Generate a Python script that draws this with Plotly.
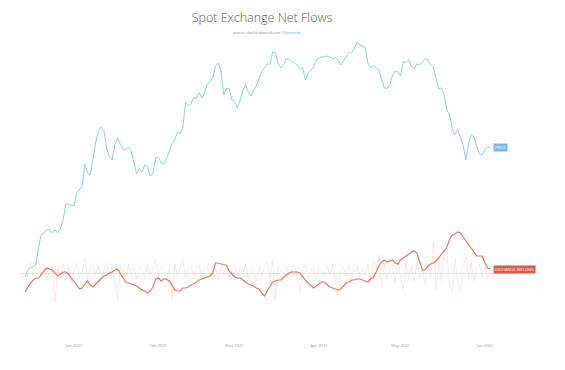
import math
import pandas as pd
import plotly.graph_objects as go

# ---------------- data (daily, from 2020-12-14) ----------------
start_date = "2020-12-14"

price = [
    19200, 19800, 20100, 20200, 20500, 22400, 23840, 24020, 24390, 24400,
    24020, 24390, 24020, 24520, 25670, 27850, 27850, 27640, 27570, 29450,
    29910, 30520, 34140, 32610, 32280, 35380, 38190, 40390, 41220, 40390,
    37040, 35380, 34850, 37610, 38980, 37800, 36850, 36670, 37140, 36480,
    34320, 32450, 33280, 32780, 33970, 33620, 32120, 32450, 35200, 35380,
    34320, 34140, 35030, 36480, 37800, 38580, 40190, 39780, 41220, 46590,
    45880, 46350, 47790, 47700, 49020, 47790, 49020, 51320, 51840, 52910,
    56250, 57110, 54830, 48520, 50290, 50030, 47300, 47100, 45410, 47060,
    49520, 51060, 49270, 48280, 49520, 50800, 52640, 54560, 55670, 56820,
    56700, 60410, 60100, 56820, 55670, 56530, 58290, 58200, 57400, 57110,
    56530, 55400, 55670, 52370, 54000, 55120, 55960, 57700, 58590, 58890,
    58800, 59190, 58890, 58290, 58590, 57990, 56530, 57700, 58890, 60100,
    60200, 61330, 63560, 62600, 62280, 61650, 57110, 55670, 56250, 55670,
    55120, 52640, 50290, 50100, 51060, 53450, 54830, 54560, 53450, 57400,
    57300, 57990, 55960, 55400, 56820, 56530, 57400, 58290, 57990, 56530,
    55960, 52640, 50030, 50290, 48520, 44950, 43820, 40810, 39580, 40600,
    39180, 37420, 34850, 38000, 39580, 39180, 37230, 35930, 35750, 36670,
    37230, 37040,
]

inflows_smooth = [
    -4750, -3500, -2500, -1750, -1250, -1250, -250, 500, 1250, 1000,
    750, 0, -750, -250, 250, 250, -250, -1250, -2000, -3000,
    -4000, -3750, -2750, -2000, -3000, -3500, -2750, -2000, -1250, -750,
    -500, 0, 250, 750, 1000, 0, -1250, -2250, -2500, -2750,
    -3000, -3250, -3750, -4250, -4500, -5000, -4500, -3500, -1500, -1250,
    -2000, -1500, -1500, -2000, -3000, -4250, -4500, -4500, -3750, -3750,
    -3500, -3000, -2750, -2250, -1750, -1500, -1250, -1000, -750, 0,
    2500, 2500, 2250, 2000, 2000, 500, -250, -1000, -1250, -1250,
    -1750, -2250, -2750, -3000, -3250, -3750, -4000, -5000, -5750, -4500,
    -3250, -2250, -2000, -1750, -1750, -1000, -500, 0, 250, 250,
    250, 0, -1000, -1750, -2500, -3250, -3750, -3250, -2750, -2250,
    -2250, -3000, -3500, -3750, -4000, -4250, -4000, -3250, -2500, -2250,
    -1750, -1750, -1500, -1500, -1750, -2000, -2250, -1500, -1000, 250,
    1750, 2750, 3250, 2750, 3000, 3250, 2500, 2250, 3250, 3750,
    4250, 4750, 5250, 5500, 5000, 2750, 750, 750, 1750, 2250,
    2500, 3000, 3750, 4500, 5500, 6500, 8500, 9500, 9750, 10250,
    10000, 9000, 8000, 7000, 6250, 5000, 4250, 4250, 4250, 2500,
    1250, 1000,
]

net_flows_daily = [
    1500, -1000, 2500, -500, 1750, 3000, -750, 1250, -1500, 500,
    2000, -7250, 1000, -1250, 2250, -500, 1500, -2000, 750, 2750,
    -1000, 500, 3750, -1750, 1250, 2000, -500, 1750, -1250, 1000,
    2500, -750, 1500, -2250, -6750, 2000, 750, -1000, 2250, -500,
    1250, -1500, 1750, 500, -1250, 2000, -750, 1000, 3500, -1000,
    1500, 750, -2000, 1000, -6750, 2250, -500, 1250, 3250, -1250,
    750, 1750, -1000, 500, 2000, -1500, 1000, 1500, -750, 2500,
    1250, -1750, 1500, -500, 2000, -1250, 750, 1750, -1000, 1250,
    -500, 2250, -1500, 1000, 500, -2000, 1500, -750, 1750, 2750,
    -1250, 3250, -6750, 1500, 500, -1000, 1750, -500, 1250, 2000,
    -750, -5000, 1000, 2000, -1250, 750, 1500, -1750, 1250, 500,
    -1000, 1750, -500, 2250, -1500, -5500, 1000, 1500, -750, 2000,
    -1250, 750, 1750, -1000, 1250, -500, 2250, -1750, 3000, 1000,
    4500, -3500, 2500, -1500, 1000, 2000, -2500, 3500, -1000, -4250,
    2750, -1500, 1750, -2250, 3000, -1000, 1500, -2750, 2000, -1250,
    7750, -4250, 2500, -2000, 5750, 6250, -3000, -5000, 3500, -2500,
    -4250, 2000, 4000, -1500, 2500, -2000, 1250, 2250, -1000, 1500,
    -1250, 500,
]

title_text = "Spot Exchange Net Flows"
source_text = "source: charlie.edwood.com / <span style='color:#4a9fd6'>Glassnode</span>"
price_label = "PRICE"
inflow_label = "EXCHANGE INFLOWS"

dates = pd.date_range(start_date, periods=len(price), freq="D")

# ---------------- styles ----------------
PRICE_COLOR = "#93cbe8"
PRICE_BOX = "#74bae2"
RED = "#e57566"
RED_BOX = "#dc5a4a"
FAINT = "rgba(229,117,102,0.28)"

# page has an 8px body margin; figure is sized/positioned to compensate
W, H = 549, 354

fig = go.Figure()

fig.add_trace(go.Scatter(
    x=dates, y=net_flows_daily, mode="lines", yaxis="y2",
    line=dict(color=FAINT, width=0.6), hoverinfo="skip", showlegend=False,
))
fig.add_trace(go.Scatter(
    x=dates, y=inflows_smooth, mode="lines", yaxis="y2",
    line=dict(color=RED, width=1.2), showlegend=False, name=inflow_label,
))
fig.add_trace(go.Scatter(
    x=dates, y=price, mode="lines", yaxis="y",
    line=dict(color=PRICE_COLOR, width=1), showlegend=False, name=price_label,
))

jan1 = pd.Timestamp("2021-01-01")
x0 = jan1 + pd.Timedelta(days=-19.84)
x1 = jan1 + pd.Timedelta(days=162.76)

fig.update_layout(
    width=W, height=H,
    margin=dict(l=12, r=40, t=32, b=24),
    paper_bgcolor="white", plot_bgcolor="white",
    font=dict(family="Open Sans", color="#999999"),
    title=dict(
        text=title_text, x=254 / W, xanchor="center", xref="container",
        y=1 - 10 / H, yanchor="middle", yref="container",
        font=dict(family="Open Sans", size=12.5, color="#5a5a5a", weight=300),
    ),
    xaxis=dict(
        type="date", range=[x0.isoformat(), x1.isoformat()],
        tick0="2021-01-01", dtick="M1", tickformat="%b %Y",
        showgrid=False, zeroline=False, showline=False, ticks="",
        ticklabelstandoff=4,
        tickfont=dict(size=4.2, color="#9a9a9a"),
    ),
    yaxis=dict(
        type="log", range=[4.14804, 4.80734], visible=False, showgrid=False,
    ),
    yaxis2=dict(
        overlaying="y", side="right", range=[-16250, 58250],
        showgrid=False, showticklabels=False, ticks="", showline=False,
        zeroline=True, zerolinecolor="#e6e6e6", zerolinewidth=0.8,
    ),
    annotations=[
        dict(text=source_text, x=(267 - 20) / 497, y=(338 - 32) / 298,
             xref="paper", yref="paper",
             showarrow=False, xanchor="center", yanchor="middle",
             font=dict(size=3.6, color="#888888")),
        dict(text=price_label, x=dates[-1], y=math.log10(price[-1]), xref="x", yref="y",
             showarrow=False, xanchor="left", yanchor="middle", xshift=3,
             bgcolor=PRICE_BOX, borderpad=1,
             font=dict(size=4, color="white")),
        dict(text=inflow_label, x=dates[-1], y=inflows_smooth[-1], xref="x", yref="y2",
             showarrow=False, xanchor="left", yanchor="middle", xshift=3,
             bgcolor=RED_BOX, borderpad=1,
             font=dict(size=4, color="white")),
    ],
)

fig.write_html("out.html")
